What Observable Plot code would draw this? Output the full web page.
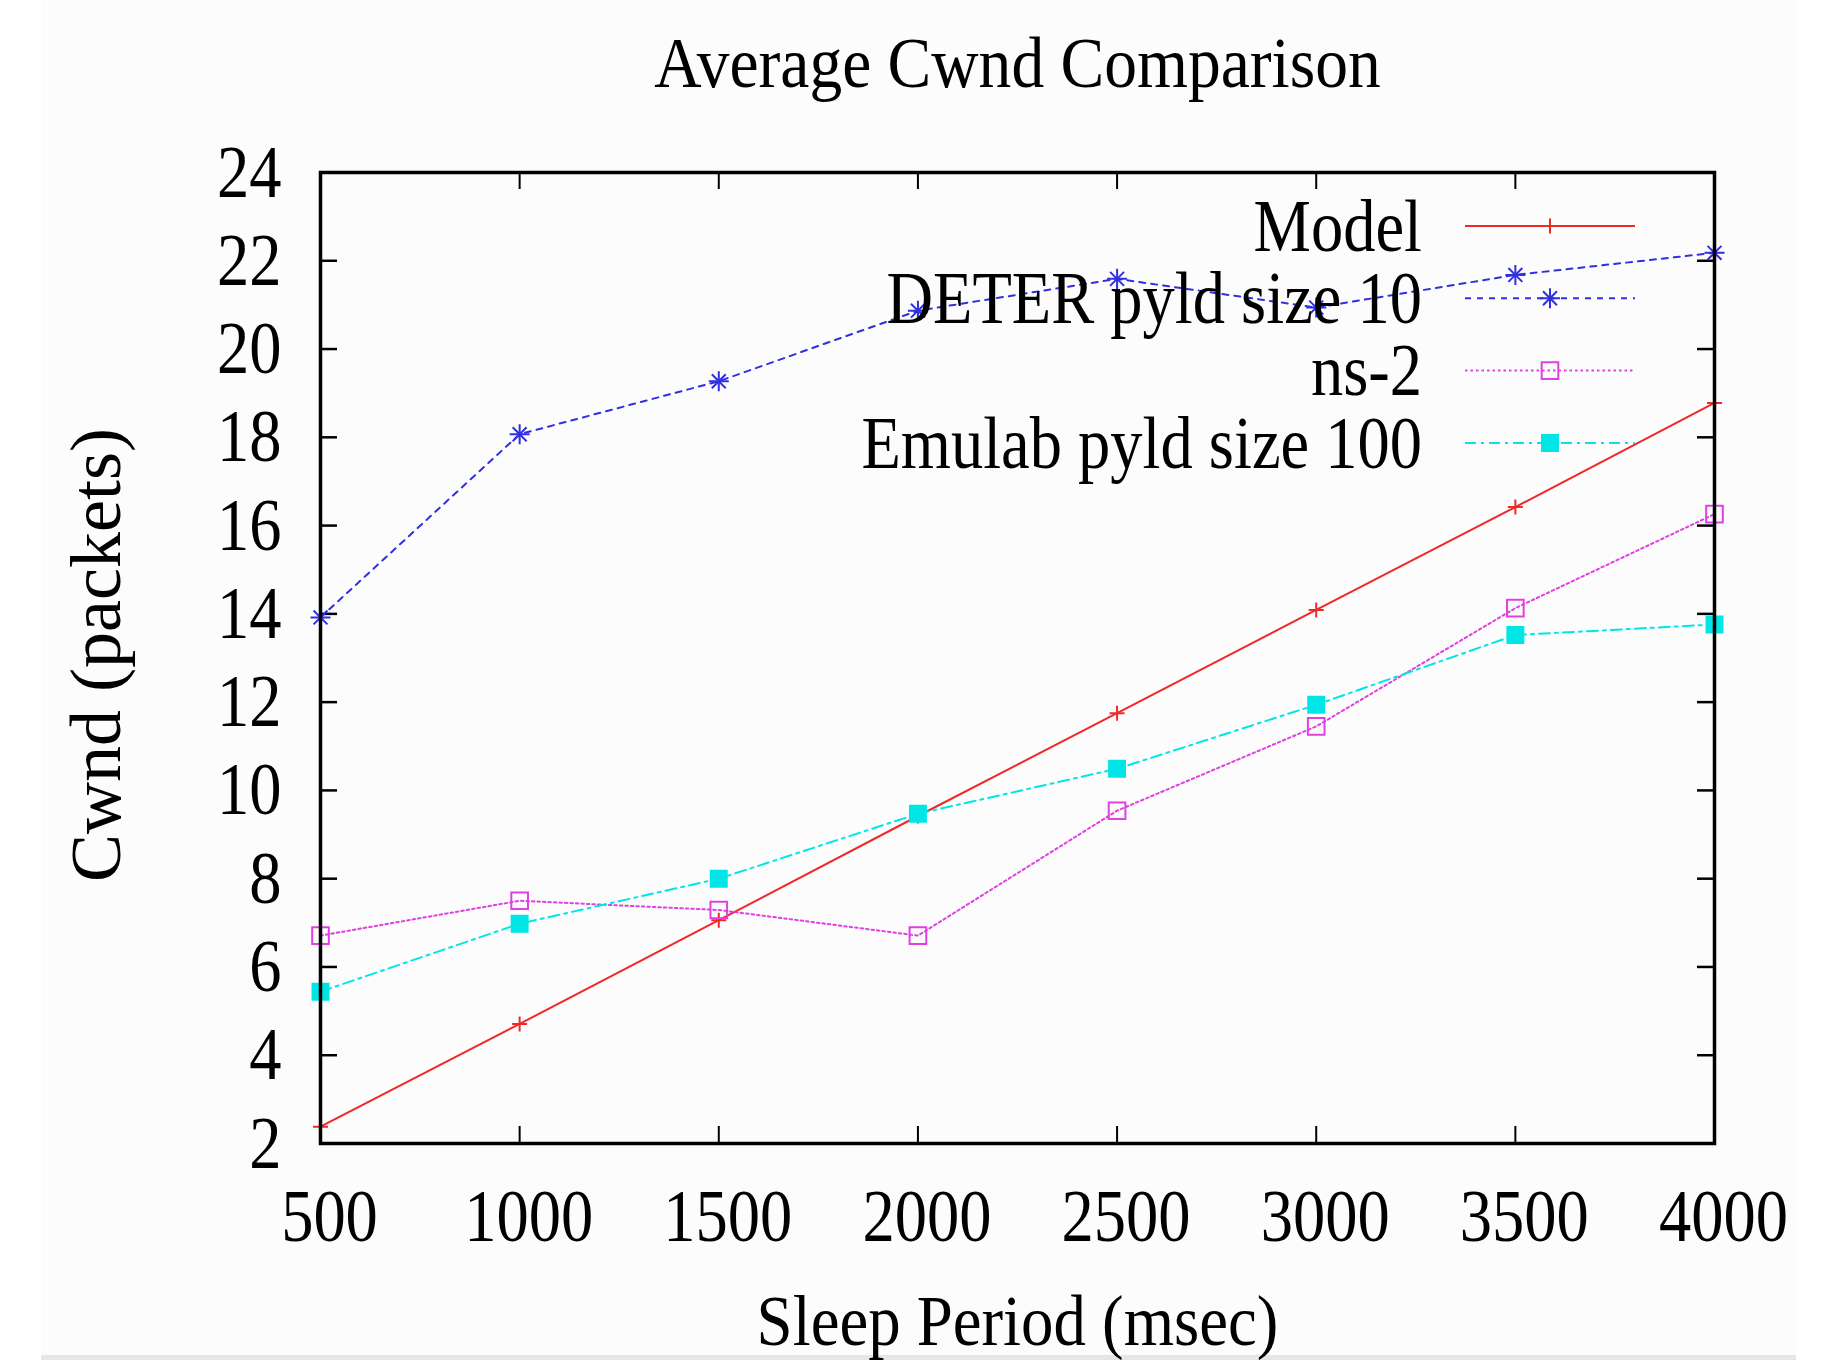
<!DOCTYPE html>
<html><head><meta charset="utf-8">
<script src="https://cdn.jsdelivr.net/npm/d3@7"></script>
<script src="https://cdn.jsdelivr.net/npm/@observablehq/plot@0.6"></script>
<style>
html,body{margin:0;padding:0;background:#fff;}
#bg{position:absolute;left:41px;top:0;width:1755px;height:1355px;background:#fcfcfc;}
#strip{position:absolute;left:41px;top:1355px;width:1755px;height:5px;background:#e6e6e6;}
#chart{position:absolute;left:0;top:0;}
</style></head><body>
<div id="bg"></div><div id="strip"></div><div id="chart"></div>
<script>
(function () {
// ---- data ----
const sleepPeriods = [500, 1000, 1500, 2000, 2500, 3000, 3500, 4000];
const seriesNames = ["Model", "DETER pyld size 10", "ns-2", "Emulab pyld size 100"];
const modelValues  = [2.38, 4.71, 7.06, 9.42, 11.75, 14.09, 16.42, 18.78];
const deterValues  = [13.92, 18.07, 19.27, 20.87, 21.59, 20.94, 21.68, 22.18];
const ns2Values    = [6.71, 7.50, 7.29, 6.71, 9.54, 11.45, 14.13, 16.26];
const emulabValues = [5.44, 6.98, 8.00, 9.47, 10.49, 11.94, 13.52, 13.76];
const xTicks = [500, 1000, 1500, 2000, 2500, 3000, 3500, 4000];
const yTicks = [2, 4, 6, 8, 10, 12, 14, 16, 18, 20, 22, 24];
const titleText = "Average Cwnd Comparison";
const xLabel = "Sleep Period (msec)";
const yLabel = "Cwnd (packets)";

// ---- styles ----
const seriesValues = [modelValues, deterValues, ns2Values, emulabValues];
const styles = {
  "Model": {color: "#f02828", dash: null, marks: [{symbol: "plus", r: 4.9, fill: "none"}]},
  "DETER pyld size 10": {color: "#3030e0", dash: "6,6", marks: [{symbol: "plus", r: 6.5, fill: "none"}, {symbol: "times", r: 6.4, fill: "none"}]},
  "ns-2": {color: "#e040e0", dash: "2.5,3", marks: [{symbol: "square2", r: 10.6, fill: "none"}]},
  "Emulab pyld size 100": {color: "#00e6e6", dash: "11,5,3,5", marks: [{symbol: "square", r: 9.0, fill: "#00e6e6"}]}
};

const W = 1838, H = 1360;
const mL = 320, mR = 124, mT = 172, mB = 217;
const fw = W - mL - mR, fh = H - mT - mB;
const tickLen = 17;
const FONT = "Liberation Serif, Times New Roman, serif";
const SX = 0.86;
const SX_TITLE = 0.91;
const SX_XLABEL = 0.9;
const TICK_FS = 75;

const rows = seriesNames.flatMap((name, s) =>
  sleepPeriods.map((x, i) => ({series: name, x, y: seriesValues[s][i]})));

const marks = [];
marks.push(Plot.axisX(xTicks, {tickSize: 0, tickPadding: 44, dx: 9, tickFormat: d => String(d), label: null, fontSize: TICK_FS}));
marks.push(Plot.axisY(yTicks, {tickSize: 0, tickPadding: 39, tickFormat: d => String(d), label: null, fontSize: TICK_FS}));
marks.push(Plot.tickX(xTicks, {x: d => d, insetTop: fh - tickLen, stroke: "black", strokeWidth: 2}));
marks.push(Plot.tickX(xTicks, {x: d => d, insetBottom: fh - tickLen, stroke: "black", strokeWidth: 2}));
marks.push(Plot.tickY(yTicks, {y: d => d, insetRight: fw - tickLen, stroke: "black", strokeWidth: 2.5}));
marks.push(Plot.tickY(yTicks, {y: d => d, insetLeft: fw - tickLen, stroke: "black", strokeWidth: 2.5}));
for (const name of seriesNames) {
  const st = styles[name];
  const d = rows.filter(r => r.series === name);
  marks.push(Plot.line(d, {x: "x", y: "y", stroke: st.color, strokeWidth: 2, strokeDasharray: st.dash || undefined}));
}
for (const name of seriesNames) {
  const st = styles[name];
  const d = rows.filter(r => r.series === name);
  for (const m of st.marks) {
    marks.push(Plot.dot(d, {x: "x", y: "y", symbol: () => m.symbol, r: m.r, stroke: st.color, strokeWidth: 2, fill: m.fill}));
  }
}
marks.push(Plot.frame({stroke: "black", strokeWidth: 3.5}));
marks.push(Plot.text([titleText], {text: d => d, frameAnchor: "top", lineAnchor: "middle", textAnchor: "middle", dy: -109, fontSize: 72}));
marks.push(Plot.text([xLabel], {text: d => d, frameAnchor: "bottom", lineAnchor: "middle", textAnchor: "middle", dy: 178, fontSize: 72}));
marks.push(Plot.text([yLabel], {text: d => d, frameAnchor: "left", lineAnchor: "middle", textAnchor: "middle", dx: -224, dy: -3, rotate: -90, fontSize: 72}));

const plot = Plot.plot({
  width: W, height: H,
  marginLeft: mL, marginRight: mR, marginTop: mT, marginBottom: mB,
  style: {fontFamily: FONT, fontSize: "72px", color: "black", background: "transparent", overflow: "visible"},
  x: {domain: [500, 4000]},
  y: {domain: [2, 24]},
  symbol: {type: "identity"},
  marks
});

// horizontally condense non-rotated text (reference typeface is narrow)
plot.querySelectorAll("text").forEach(t => {
  const tr = t.getAttribute("transform");
  if (tr && !/rotate/.test(tr)) {
    const s = t.textContent === titleText ? SX_TITLE : t.textContent === xLabel ? SX_XLABEL : SX;
    t.setAttribute("transform", tr + ` scale(${s},1)`);
  }
});

// legend
const svg = d3.select(plot);
const frameRight = mL + fw, frameTop = mT;
const leg = svg.append("g").attr("aria-label", "legend");
const symMap = {plus: d3.symbolPlus, times: d3.symbolTimes, square2: d3.symbolSquare2, square: d3.symbolSquare};
seriesNames.forEach((name, i) => {
  const st = styles[name];
  const cy = frameTop + 54 + i * 72.3;
  const textX = frameRight - 292, lx1 = frameRight - 249, lx2 = frameRight - 79, mx = frameRight - 164;
  leg.append("text")
    .attr("transform", `translate(${textX},${cy}) scale(${SX},1)`)
    .attr("text-anchor", "end").attr("dy", "0.33em")
    .attr("font-family", FONT).attr("font-size", TICK_FS).attr("fill", "black")
    .text(name);
  leg.append("line").attr("x1", lx1).attr("x2", lx2).attr("y1", cy).attr("y2", cy)
    .attr("stroke", st.color).attr("stroke-width", 2)
    .attr("stroke-dasharray", st.dash || null);
  for (const m of st.marks) {
    leg.append("path")
      .attr("transform", `translate(${mx},${cy})`)
      .attr("d", d3.symbol().type(symMap[m.symbol]).size(Math.PI * m.r * m.r)())
      .attr("stroke", st.color).attr("stroke-width", 2).attr("fill", m.fill);
  }
});

document.getElementById("chart").appendChild(plot);
})();
</script>
</body></html>
